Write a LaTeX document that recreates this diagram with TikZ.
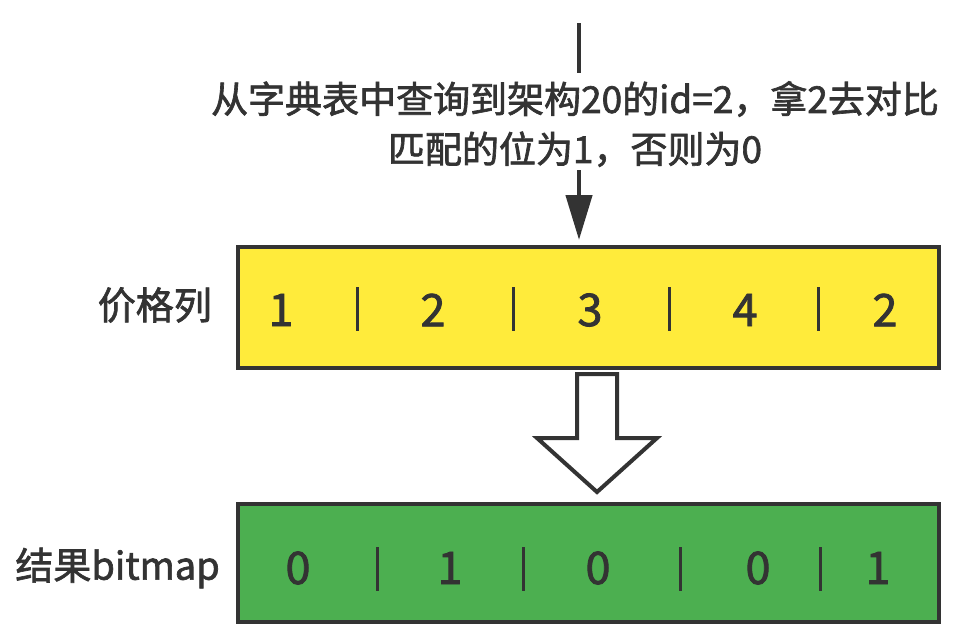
\documentclass[tikz,border=0pt]{standalone}
\usepackage{fontspec}
\setmainfont{Noto Sans CJK SC}
\newfontfamily\med{Noto Sans CJK SC}[FakeBold=1.8]
\usetikzlibrary{arrows.meta}
\definecolor{ink}{HTML}{333333}
\definecolor{yel}{HTML}{FFEB3B}
\definecolor{grn}{HTML}{4CAF50}
\tikzset{
  bar/.style={draw=ink, line width=4pt},
  cell/.style={font=\med\fontsize{45}{48}\selectfont, text=ink, inner sep=0pt},
  sep/.style={draw=ink, line width=3pt},
  lbl/.style={font=\med\fontsize{38}{42}\selectfont, text=ink, inner sep=0pt},
  conn/.style={draw=ink, line width=4.5pt},
}
\begin{document}
\begin{tikzpicture}[x=1pt,y=-1pt]
\useasboundingbox (0,0) rectangle (957,637);
% top text and arrow
\coordinate (top) at (579,23);
\node[font=\med\fontsize{37}{50}\selectfont, text=ink, align=center, inner sep=0pt] (txt) at (575,124)
  {从字典表中查询到架构20的id=2，拿2去对比\\匹配的位为1，否则为0};
\coordinate (t1) at (579,73);
\coordinate (t2) at (579,170);
\draw[conn] (top) -- (t1);
% yellow box
\node[bar, fill=yel, minimum width=701pt, minimum height=121pt, inner sep=0pt, anchor=north west] (ybox) at (236,245) {};
\draw[conn, -{Triangle[length=45pt,width=26pt]}] (t2) -- (579,240);
\foreach \x/\v [count=\i] in {281/1,433/2,590/3,745/4,885/2}
  \node[cell] (y\i) at (\x,310) {\v};
\foreach \x [count=\i] in {357,513,669,818}
  {\coordinate (ya\i) at (\x,287); \coordinate (yb\i) at (\x,331); \draw[sep] (ya\i) -- (yb\i);}
\node[lbl, anchor=east] (ylab) at (212,305) {价格列};
% hollow arrow
\draw[draw=ink, line width=4pt, fill=white, line join=miter]
  (577,374) -- (617,374) -- (617,438) -- (657,438) -- (597,492) -- (537,438) -- (577,438) -- cycle;
% green box
\node[bar, fill=grn, minimum width=701pt, minimum height=118pt, inner sep=0pt, anchor=north west] (gbox) at (236,502) {};
\foreach \x/\v [count=\i] in {298/0,450/1,598/0,758/0,878/1}
  \node[cell] (g\i) at (\x,568) {\v};
\foreach \x [count=\i] in {377,523,680,820}
  {\coordinate (ga\i) at (\x,547); \coordinate (gb\i) at (\x,591); \draw[sep] (ga\i) -- (gb\i);}
\node[lbl, anchor=east] (glab) at (220,568) {结果bitmap};
\end{tikzpicture}
\end{document}
